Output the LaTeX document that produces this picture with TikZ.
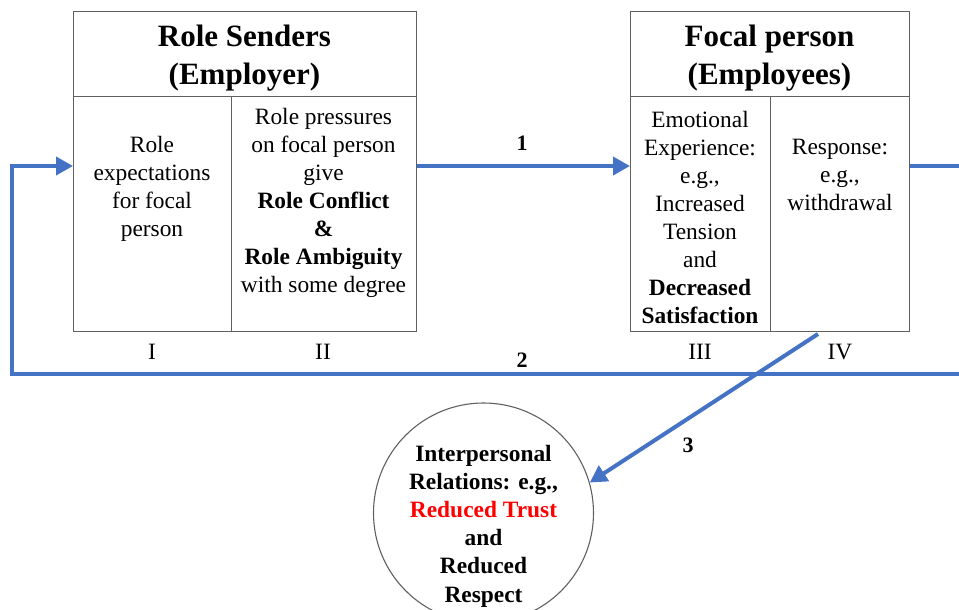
\documentclass[tikz,border=0pt]{standalone}
\usepackage{fontspec}
\setmainfont{Liberation Serif}
\usetikzlibrary{arrows.meta}
\definecolor{flowblue}{HTML}{4472C4}
\definecolor{framegray}{HTML}{606060}
\definecolor{trustred}{HTML}{FF0000}

\begin{document}
\begin{tikzpicture}[x=1pt,y=-1pt,
  cell/.style 2 args={draw=framegray, line width=1.2pt, anchor=north west,
    inner sep=0pt, minimum width=#1, minimum height=#2},
  body/.style={align=center, inner sep=0pt, font=\fontsize{23.4}{28}\selectfont},
  title/.style={align=center, inner sep=0pt, font=\fontsize{31}{38}\selectfont\bfseries},
  numlabel/.style={inner sep=0pt, font=\fontsize{22}{26}\selectfont\bfseries},
  flow/.style={draw=flowblue, line width=4pt},
  tip/.style={-{Triangle[length=17pt,width=18pt]}}]

\useasboundingbox (0,0) rectangle (959,610);
\clip (0,0) rectangle (959,610);

% Role senders block
\node[cell={343pt}{85pt}]  (hdrA) at (73,11) {};
\node[cell={158pt}{235pt}] (cI)   at (73,96) {};
\node[cell={185pt}{235pt}] (cII)  at (231,96) {};

% Focal person block
\node[cell={279pt}{85pt}]  (hdrB) at (630,11) {};
\node[cell={140pt}{235pt}] (cIII) at (630,96) {};
\node[cell={139pt}{235pt}] (cIV)  at (770,96) {};

% Headings
\node[title] (tA) at (244.5,58) {Role Senders\\(Employer)};
\node[title] (tB) at (769.5,58) {Focal person\\(Employees)};

% Cell contents
\node[body] (txI) at (152,189) {Role\\expectations\\for focal\\person};
\node[body] (txII) at (323.5,203) {Role pressures\\on focal person\\give\\\textbf{Role Conflict}\\\textbf{\&}\\\textbf{Role Ambiguity}\\with some degree};
\node[body] (txIII) at (700,217) {Emotional\\Experience:\\e.g.,\\Increased\\Tension\\and\\\textbf{Decreased}\\\textbf{Satisfaction}};
\node[body] (txIV) at (840,175) {Response:\\e.g.,\\withdrawal};

% Stage numerals
\node[body] (nI)   at (152,352) {I};
\node[body] (nII)  at (323,352) {II};
\node[body] (nIII) at (700,352) {III};
\node[body] (nIV)  at (840,352) {IV};

% Interpersonal relations
\node[circle, draw=framegray, line width=1.1pt, minimum size=220pt, inner sep=0pt] (circ) at (483.5,513) {};
\node[body, font=\fontsize{23.4}{28.2}\selectfont\bfseries] (txC) at (483.5,526)
  {Interpersonal\\Relations: e.g.,\\\textcolor{trustred}{Reduced Trust}\\and\\Reduced\\Respect};

% Connector anchors
\coordinate (row) at (0,166);
\coordinate (exitR) at (965,166);
\coordinate (backR) at (965,374);
\coordinate (backL) at (12,374);
\coordinate (upL) at (12,166);
\coordinate (s3) at (818,334);

% Flows
\draw[flow, tip] (cII.east |- row) -- (cIII.west |- row);
\draw[flow] (cIV.east |- row) -- (exitR);
\draw[flow, tip] (backR) -- (backL) -- (upL) -- (cI.west |- row);
\draw[flow, tip] (s3) -- (circ.16);

% Flow numbers
\node[numlabel] (f1) at (522,143) {1};
\node[numlabel] (f2) at (522,360) {2};
\node[numlabel] (f3) at (688,445) {3};
\end{tikzpicture}
\end{document}
